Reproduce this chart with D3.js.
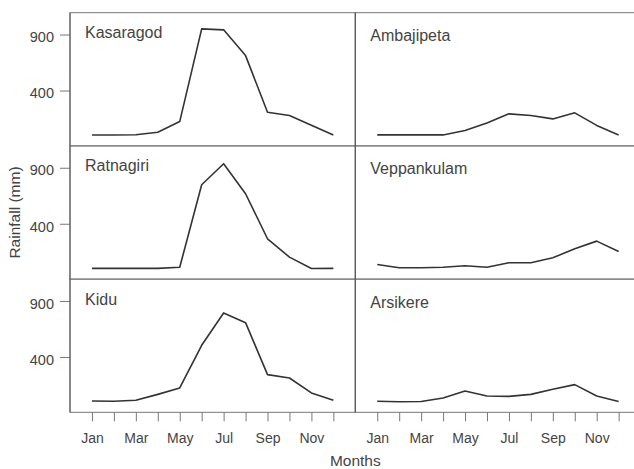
<!DOCTYPE html>
<html>
<head>
<meta charset="utf-8">
<script src="https://cdn.jsdelivr.net/npm/d3@7"></script>
<style>
  body { margin: 0; background: #fff; }
  svg { display: block; font-family: "Liberation Sans", Arial, sans-serif; }
  .tick text { fill: #444; }
</style>
</head>
<body>
<svg id="chart"></svg>
<script>
const months = ['Jan', 'Feb', 'Mar', 'Apr', 'May', 'Jun', 'Jul', 'Aug', 'Sep', 'Oct', 'Nov', 'Dec'];
const stations = ['Kasaragod', 'Ambajipeta', 'Ratnagiri', 'Veppankulam', 'Kidu', 'Arsikere'];
const yTicks = [400, 900];

// monthly rainfall (mm)
const kasaragod = [3, 3, 6, 28, 123, 951, 942, 712, 206, 177, 90, 4];
const ambajipeta = [4, 4, 4, 4, 43, 111, 192, 177, 147, 201, 89, 4];
const ratnagiri = [2, 2, 2, 2, 12, 748, 936, 668, 266, 102, 0, 2];
const veppankulam = [37, 7, 7, 12, 25, 12, 52, 52, 96, 177, 245, 153];
const kidu = [7, 4, 13, 66, 123, 504, 793, 706, 242, 212, 79, 13];
const arsikere = [4, 0, 2, 34, 96, 52, 48, 66, 111, 153, 52, 2];

const series = [kasaragod, ambajipeta, ratnagiri, veppankulam, kidu, arsikere];

const W = 634, H = 469;
const margin = { top: 12.7, left: 70 };
const colW = 285.3;
const rowH = 133.2;

const svg = d3.select('#chart').attr('width', W).attr('height', H);

const x = d3.scaleLinear().domain([0, 13]).range([0, colW]);
const y = d3.scaleLinear().domain([-94, 1095]).range([rowH, 0]);

const line = d3.line()
  .x((d, i) => x(i + 1))
  .y((d) => y(d));

stations.forEach((name, k) => {
  const col = k % 2;
  const row = Math.floor(k / 2);
  const g = svg.append('g')
    .attr('transform', `translate(${margin.left + col * colW},${margin.top + row * rowH})`);

  // panel frame
  g.append('rect')
    .attr('width', colW)
    .attr('height', rowH)
    .attr('fill', 'none')
    .attr('stroke', '#777')
    .attr('stroke-width', 1);

  g.append('path')
    .datum(series[k])
    .attr('fill', 'none')
    .attr('stroke', '#333')
    .attr('stroke-width', 1.6)
    .attr('stroke-linejoin', 'round')
    .attr('d', line);

  g.append('text')
    .attr('x', 15)
    .attr('y', col === 0 ? 25.5 : 28.5)
    .attr('fill', '#444')
    .attr('font-size', 16)
    .text(name);

  if (col === 0) {
    const yAxis = g.append('g')
      .call(d3.axisLeft(y).tickValues(yTicks).tickSize(10).tickPadding(6));
    yAxis.select('.domain').remove();
    yAxis.selectAll('.tick line').attr('stroke', '#777');
    yAxis.selectAll('.tick text').attr('font-size', 14.5).attr('dy', '0.5em');
  }

  if (row === 2) {
    const xAxis = g.append('g')
      .attr('transform', `translate(0,${rowH})`)
      .call(d3.axisBottom(x)
        .tickValues(d3.range(1, 13))
        .tickSize(9)
        .tickPadding(12)
        .tickFormat((d) => (d % 2 === 1 ? months[d - 1] : '')));
    xAxis.select('.domain').remove();
    xAxis.selectAll('.tick line').attr('stroke', '#777');
    xAxis.selectAll('.tick text').attr('font-size', 14);
  }
});

// divider between the two columns, drawn darker
svg.append('line')
  .attr('x1', margin.left + colW).attr('x2', margin.left + colW)
  .attr('y1', margin.top).attr('y2', margin.top + 3 * rowH)
  .attr('stroke', '#555');
svg.append('line')
  .attr('x1', margin.left).attr('x2', margin.left)
  .attr('y1', margin.top).attr('y2', margin.top + 3 * rowH)
  .attr('stroke', '#555');

svg.append('text')
  .attr('x', margin.left + colW)
  .attr('y', 466)
  .attr('text-anchor', 'middle')
  .attr('fill', '#444')
  .attr('font-size', 15.5)
  .text('Months');

svg.append('text')
  .attr('transform', `translate(20,${margin.top + 1.5 * rowH}) rotate(-90)`)
  .attr('text-anchor', 'middle')
  .attr('fill', '#444')
  .attr('font-size', 15.5)
  .text('Rainfall (mm)');
</script>
</body>
</html>
